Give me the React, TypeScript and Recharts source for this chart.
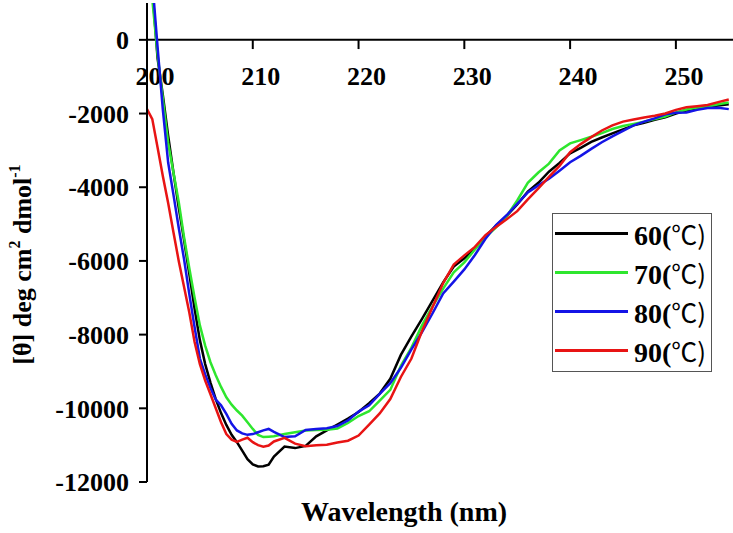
import { LineChart, Line, XAxis, YAxis, ReferenceLine, Legend } from "recharts";

const SERIF = "'Liberation Serif', 'Times New Roman', serif";

// wavelength grid (nm)
const wavelengths = [
  200, 200.5, 201, 201.5, 202, 202.5, 203, 203.5, 204, 204.5, 205, 205.5, 206,
  206.5, 207, 207.5, 208, 208.5, 209, 209.5, 210, 210.5, 211, 211.5, 212, 213,
  214, 215, 216, 217, 218, 219, 220, 221, 222, 223, 224, 225, 226, 227, 228,
  229, 230, 231, 232, 233, 234, 235, 236, 237, 238, 239, 240, 241, 242, 243,
  244, 245, 246, 247, 248, 249, 250, 251, 252, 253, 254, 255,
];

// [θ] readings per temperature
const t60 = [
  3000, 1400, -500, -1500, -2600, -3600, -4550, -5430, -6350, -7300, -8150,
  -8800, -9300, -9750, -10130, -10450, -10720, -10920, -11150, -11380, -11520,
  -11580, -11570, -11530, -11310, -11040, -11080, -11020, -10760, -10600,
  -10440, -10280, -10100, -9860, -9600, -9200, -8550, -8050, -7570, -7080,
  -6580, -6150, -5930, -5660, -5330, -5040, -4780, -4470, -4120, -3880, -3580,
  -3340, -3080, -2930, -2770, -2650, -2540, -2430, -2320, -2250, -2170, -2100,
  -2000, -1920, -1850, -1820, -1780, -1750,
];
const t70 = [
  2400, 1100, -400, -1600, -2800, -3600, -4400, -5350, -6200, -7000, -7750,
  -8300, -8750, -9100, -9420, -9700, -9900, -10060, -10200, -10380, -10560,
  -10720, -10780, -10770, -10760, -10700, -10650, -10600, -10590, -10580,
  -10550, -10400, -10210, -10080, -9790, -9500, -8850, -8350, -7750, -7230,
  -6750, -6310, -6040, -5690, -5360, -5090, -4790, -4360, -3880, -3600, -3360,
  -3000, -2810, -2720, -2630, -2530, -2420, -2340, -2280, -2220, -2150, -2080,
  -1970, -1890, -1840, -1810, -1750, -1700,
];
const t80 = [
  2800, 1600, -200, -1900, -3330, -4200, -5100, -5950, -6900, -7800, -8650,
  -9080, -9450, -9760, -9920, -10150, -10420, -10600, -10680, -10720, -10700,
  -10650, -10600, -10560, -10640, -10780, -10760, -10590, -10560, -10540,
  -10480, -10330, -10090, -9920, -9610, -9320, -8900, -8400, -7930, -7420,
  -6880, -6560, -6230, -5840, -5400, -5030, -4760, -4450, -4140, -3950, -3770,
  -3550, -3320, -3150, -2960, -2780, -2620, -2470, -2320, -2220, -2130, -2020,
  -1980, -1970, -1900, -1850, -1840, -1880,
];
const t90 = [
  -1880, -2150, -2920, -3700, -4430, -5220, -6000, -6700, -7400, -8200, -8800,
  -9250, -9620, -10000, -10380, -10700, -10850, -10910, -10850, -10800,
  -10920, -11000, -11040, -11010, -10900, -10800, -10960, -11030, -11000,
  -10990, -10930, -10880, -10740, -10440, -10140, -9750, -9150, -8650, -7900,
  -7250, -6600, -6100, -5850, -5620, -5300, -5080, -4870, -4650, -4330, -4030,
  -3720, -3420, -3050, -2830, -2640, -2460, -2320, -2220, -2160, -2110, -2060,
  -2000, -1900, -1830, -1800, -1770, -1690, -1620,
];

const xTicks = [200, 210, 220, 230, 240, 250];
const yTicks = [0, -2000, -4000, -6000, -8000, -10000, -12000];

const series = [
  { key: "t60", name: "60", color: "#000000" },
  { key: "t70", name: "70", color: "#2ee62e" },
  { key: "t80", name: "80", color: "#1414e6" },
  { key: "t90", name: "90", color: "#e81414" },
];

const data = wavelengths.map((wl, i) => ({
  wl,
  t60: t60[i],
  t70: t70[i],
  t80: t80[i],
  t90: t90[i],
}));

function YTitle(props: any) {
  const vb = props.viewBox ?? { x: 0, y: 3, width: 147, height: 479 };
  const x = vb.x + 31;
  const y = vb.y + vb.height / 2 + 22;
  return (
    <text
      x={x}
      y={y}
      transform={`rotate(-90 ${x} ${y})`}
      textAnchor="middle"
      fontFamily={SERIF}
      fontWeight="bold"
      fontSize={26}
      fill="#000"
    >
      [θ] deg cm
      <tspan dy={-11} fontSize={16}>2</tspan>
      <tspan dy={11}>{" dmol"}</tspan>
      <tspan dy={-11} fontSize={16}>-1</tspan>
    </text>
  );
}

function XTitle(props: any) {
  const vb = props.viewBox ?? { x: 147, y: 482, width: 586, height: 51 };
  return (
    <text
      x={vb.x + 257}
      y={vb.y + 39}
      textAnchor="middle"
      fontFamily={SERIF}
      fontWeight="bold"
      fontSize={28}
      fill="#000"
    >
      Wavelength (nm)
    </text>
  );
}

function renderTickLabel(props: any, value: number) {
  const vb = props.viewBox;
  if (!vb) return null;
  return (
    <text
      x={vb.x + 8}
      y={vb.y + vb.height + 36}
      textAnchor="middle"
      fontFamily={SERIF}
      fontWeight="bold"
      fontSize={26}
      fill="#000"
    >
      {value}
    </text>
  );
}

function renderLegend(props: any) {
  const payload = props.payload ?? [];
  return (
    <div
      style={{
        width: 158,
        height: 157,
        border: "1px solid #555",
        background: "#fff",
        fontFamily: SERIF,
      }}
    >
      {payload.map((entry: any) => (
        <div
          key={entry.value}
          style={{ display: "flex", alignItems: "center", height: 40, marginTop: -1 }}
        >
          <div style={{ width: 73, height: 3, background: entry.color, marginLeft: 2 }} />
          <span style={{ marginLeft: 6, fontSize: 28, fontWeight: "bold", color: "#000", whiteSpace: "nowrap" }}>
            {entry.value}(
            <span style={{ fontWeight: "normal", fontFamily: "'Noto Sans CJK SC', sans-serif", fontSize: 26 }}>℃)</span>
          </span>
        </div>
      ))}
    </div>
  );
}

export default function App() {
  return (
    <div style={{ position: "absolute", left: 0, top: 0, width: 733, height: 533, background: "#fff" }}>
      <LineChart
        width={733}
        height={533}
        data={data}
        margin={{ top: 3, right: 0, bottom: 0, left: 0 }}
      >
        <XAxis
          dataKey="wl"
          type="number"
          domain={[200, 255.4]}
          allowDataOverflow
          axisLine={false}
          tickLine={false}
          tick={false}
          height={51}
          label={XTitle}
        />
        <YAxis
          type="number"
          domain={[-12000, 1000]}
          ticks={yTicks}
          allowDataOverflow
          width={147}
          axisLine={{ stroke: "#000", strokeWidth: 2 }}
          tickLine={{ stroke: "#000", strokeWidth: 2 }}
          tickSize={8}
          tickMargin={10}
          tick={{ fill: "#000", fontSize: 26, fontWeight: "bold", fontFamily: SERIF }}
          label={YTitle}
        />
        <ReferenceLine y={0} stroke="#000" strokeWidth={2} />
        {xTicks.map((t) => (
          <ReferenceLine
            key={t}
            segment={[
              { x: t, y: 0 },
              { x: t, y: -250 },
            ]}
            stroke="#000"
            strokeWidth={2}
            label={(p: any) => renderTickLabel(p, t)}
          />
        ))}
        {series.map((s) => (
          <Line
            key={s.key}
            type="linear"
            dataKey={s.key}
            name={s.name}
            stroke={s.color}
            strokeWidth={2.5}
            dot={false}
            isAnimationActive={false}
          />
        ))}
        <Legend
          layout="vertical"
          align="center"
          verticalAlign="middle"
          content={renderLegend}
          wrapperStyle={{ left: 552, top: 213, width: 160, height: 159 }}
        />
      </LineChart>
    </div>
  );
}
